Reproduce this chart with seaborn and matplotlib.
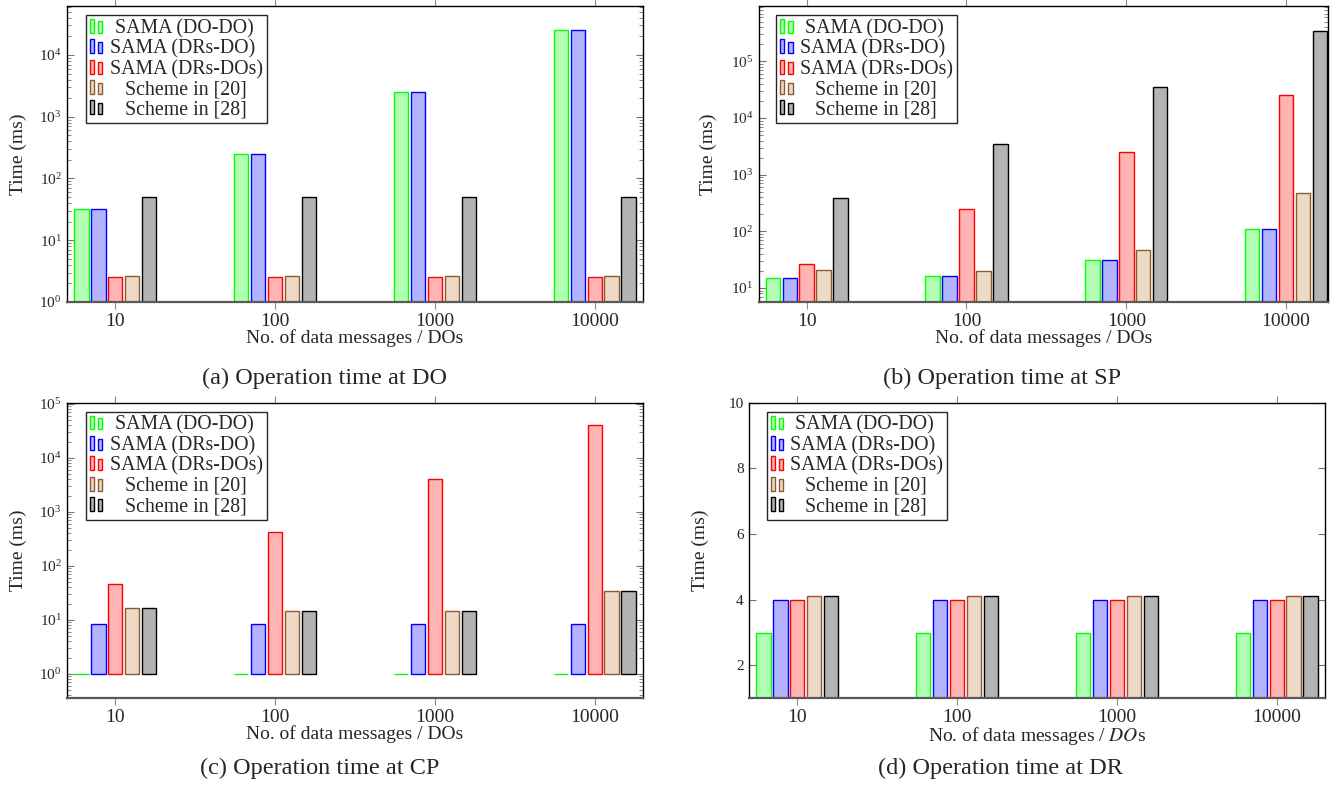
import seaborn as sns
import matplotlib.pyplot as plt
import pandas as pd
from matplotlib.patches import Rectangle
from matplotlib.legend_handler import HandlerBase

# categories / series
msgs = ['10', '100', '1000', '10000']
schemes = ['SAMA (DO-DO)', 'SAMA (DRs-DO)', 'SAMA (DRs-DOs)', 'Scheme in [20]', 'Scheme in [28]']

# (a) DO
do_dodo = [32, 250, 2500, 25000]
do_drsdo = [32, 250, 2500, 25000]
do_drsdos = [2.5, 2.5, 2.5, 2.5]
do_s20 = [2.6, 2.6, 2.6, 2.6]
do_s28 = [50, 50, 50, 50]
# (b) SP
sp_dodo = [15, 16, 31, 110]
sp_drsdo = [15, 16, 31, 110]
sp_drsdos = [26, 250, 2500, 25000]
sp_s20 = [21, 20, 46, 480]
sp_s28 = [380, 3500, 35000, 350000]
# (c) CP
cp_dodo = [1, 1, 1, 1]
cp_drsdo = [8.5, 8.5, 8.5, 8.5]
cp_drsdos = [46, 420, 4000, 40000]
cp_s20 = [17, 14.5, 14.5, 35]
cp_s28 = [17, 14.5, 14.5, 35]
# (d) DR
dr_dodo = [3, 3, 3, 3]
dr_drsdo = [4, 4, 4, 4]
dr_drsdos = [4, 4, 4, 4]
dr_s20 = [4.1, 4.1, 4.1, 4.1]
dr_s28 = [4.1, 4.1, 4.1, 4.1]

fills = ['#b3ffb3', '#b3b3ff', '#ffb3b3', '#ecd9c6', '#b3b3b3']
edges = ['#00ff00', '#0000ff', '#ff0000', '#8c5a2e', '#000000']

sns.set_style('white')
plt.rcParams['font.family'] = ['Liberation Serif', 'DejaVu Serif']
plt.rcParams['mathtext.fontset'] = 'stix'


def make_df(series):
    rows = []
    for name, vals in zip(schemes, series):
        for m, v in zip(msgs, vals):
            rows.append({'msgs': m, 'time': v, 'scheme': name})
    return pd.DataFrame(rows)


class TwoBars(HandlerBase):
    # pgfplots-like ybar legend: two small bars
    def create_artists(self, legend, orig, xd, yd, w, h, fontsize, trans):
        fc = orig.get_facecolor()
        ec = orig.get_edgecolor()
        r1 = Rectangle((-xd, -yd), 0.3 * w, 1.05 * h, fc=fc, ec=ec, lw=1, transform=trans)
        r2 = Rectangle((-xd + 0.62 * w, -yd), 0.3 * w, 0.85 * h, fc=fc, ec=ec, lw=1, transform=trans)
        return [r1, r2]


leg_labels = [' SAMA (DO-DO)', 'SAMA (DRs-DO)', 'SAMA (DRs-DOs)', '   Scheme in [20]', '   Scheme in [28]']


def panel(rect, series, log, ylim, xright, caption, cap_x, cap_y, ylab_x, xlab, legpos):
    ax = fig.add_axes(rect)
    df = make_df(series)
    sns.barplot(data=df, x='msgs', y='time', hue='scheme', order=msgs, hue_order=schemes,
                palette=dict(zip(schemes, fills)), saturation=1, width=0.53, gap=0.15,
                legend=False, ax=ax)
    for cont, ec in zip(ax.containers, edges):
        for b in cont:
            b.set_edgecolor(ec)
            b.set_linewidth(1)
    if log:
        ax.set_yscale('log')
        # bars start from the log origin (1)
        for b in ax.patches:
            h = b.get_height()
            b.set_y(1)
            b.set_height(h - 1)
    else:
        ax.set_yticks([2, 4, 6, 8, 10])
    ax.set_ylim(*ylim)
    ax.set_xlim(-0.3, xright)
    for s in ax.spines.values():
        s.set_visible(True)
        s.set_color('black')
        s.set_linewidth(1)
    ax.spines['bottom'].set_color('0.35')
    ax.spines['bottom'].set_linewidth(1.6)
    ax.tick_params(axis='x', which='both', bottom=True, top=True, direction='out',
                   length=5, width=0.8, color='0.55', labelsize=14, pad=3)
    ax.tick_params(axis='y', which='both', left=True, right=True, direction='in',
                   color='0.45', labelsize=11, pad=4)
    ax.tick_params(axis='y', which='major', length=5, width=0.8)
    ax.tick_params(axis='y', which='minor', length=3, width=0.6)
    ax.set_xlabel(xlab, fontsize=14, labelpad=-1)
    ax.set_ylabel('')
    fig.text(ylab_x, rect[1] + rect[3] / 2, 'Time (ms)', rotation=90, fontsize=14,
             ha='center', va='center')
    fig.text(cap_x, cap_y, caption, fontsize=17.5, ha='center', va='center')
    handles = [Rectangle((0, 0), 1, 1, fc=f, ec=e) for f, e in zip(fills, edges)]
    leg = ax.legend(handles, leg_labels, handler_map={Rectangle: TwoBars()},
                    loc='upper left', bbox_to_anchor=legpos, borderaxespad=0,
                    fontsize=14.3, labelspacing=0.06, handlelength=0.7, handleheight=0.65,
                    handletextpad=0.3, borderpad=0.2, fancybox=False, framealpha=1,
                    edgecolor='0.15')
    leg.get_frame().set_linewidth(1)
    return ax


fig = plt.figure(figsize=(13.41, 7.9), dpi=100)
W, H = 1341, 790

panel([67.3 / W, 1 - 302 / H, 575.4 / W, 296 / H],
      [do_dodo, do_drsdo, do_drsdos, do_s20, do_s28], True, (1, 6.2e4), 3.3,
      '(a) Operation time at DO', 325 / W, 1 - 378 / H, 18 / W,
      'No. of data messages / DOs', (0.032, 0.97))
panel([758.7 / W, 1 - 302 / H, 569 / W, 296 / H],
      [sp_dodo, sp_drsdo, sp_drsdos, sp_s20, sp_s28], True, (5.65, 9.5e5), 3.26,
      '(b) Operation time at SP', 1002 / W, 1 - 378 / H, 708 / W,
      'No. of data messages / DOs', (0.03, 0.97))
panel([67.3 / W, 1 - 698.3 / H, 575.4 / W, 295.6 / H],
      [cp_dodo, cp_drsdo, cp_drsdos, cp_s20, cp_s28], True, (0.355, 1.05e5), 3.3,
      '(c) Operation time at CP', 320 / W, 1 - 768 / H, 18 / W,
      'No. of data messages / DOs', (0.032, 0.97))
panel([749.3 / W, 1 - 698.3 / H, 575.4 / W, 295.6 / H],
      [dr_dodo, dr_drsdo, dr_drsdos, dr_s20, dr_s28], False, (1, 10), 3.3,
      '(d) Operation time at DR', 1000 / W, 1 - 768 / H, 700 / W,
      'No. of data messages / $DO$s', (0.03, 0.97))

fig.savefig('out.png', dpi=100)
